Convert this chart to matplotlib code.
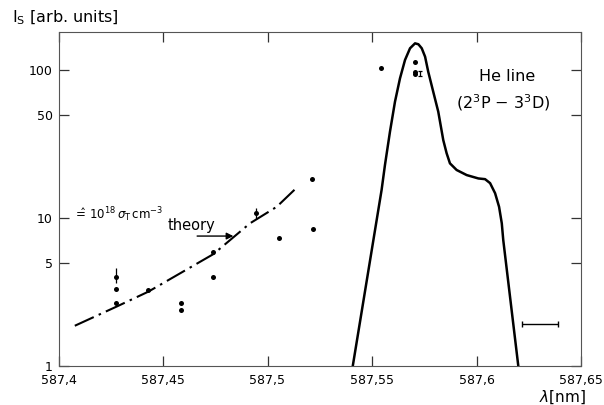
import matplotlib
matplotlib.use("Agg")
import matplotlib.pyplot as plt
import numpy as np

# He line profile (solid)
line_x = [587.5408, 587.5546, 587.5562, 587.5586, 587.5610, 587.5634, 587.5658,
          587.5682, 587.5706, 587.5722, 587.5738, 587.5754, 587.5769, 587.5793,
          587.5817, 587.5841, 587.5857, 587.5873, 587.5905, 587.5953, 587.6009,
          587.6041, 587.6065, 587.6089, 587.6108, 587.6121, 587.6128, 587.6200]
line_y = [1.0, 15.5, 22.8, 38.3, 61.1, 87.9, 116.9, 140.2, 151.4, 149.2, 140.2,
          123, 97.4, 71.3, 52.3, 33.6, 27.4, 23.4, 21.1, 19.5, 18.5, 18.3, 17.2,
          14.7, 11.9, 9.2, 7.1, 1.0]

# theory curve (dash-dot)
theory_x = [587.4078, 587.4278, 587.4430, 587.4741, 587.4916, 587.5044, 587.5147]
theory_y = [1.87, 2.52, 3.18, 5.70, 9.2, 11.9, 16.4]

# measured points
pts_x = [587.4276, 587.4276, 587.4430, 587.4586, 587.4586, 587.4741, 587.4738,
         587.5057, 587.5214, 587.5219, 587.5545, 587.5706, 587.5706, 587.5706]
pts_y = [3.31, 2.65, 3.26, 2.65, 2.39, 5.87, 4.01, 7.36, 18.3, 8.43, 103.7,
         113, 97.4, 93.5]

# points with error bars
err_x = [587.4276, 587.4944]
err_y = [4.01, 10.8]
err_lo = [0.35, 1.0]
err_hi = [0.56, 0.9]

# small error bar beside the peak points
peak_err_x = [587.5730]
peak_err_y = [95]
peak_err = [4]

# instrumental width bar
inst_x = [587.622, 587.639]
inst_y = 1.92

xticks = [587.4, 587.45, 587.5, 587.55, 587.6, 587.65]
xticklabels = ["587,4", "587,45", "587,5", "587,55", "587,6", "587,65"]
yticks = [1, 5, 10, 50, 100]
yticklabels = ["1", "5", "10", "50", "100"]

fig = plt.figure(figsize=(6.04, 4.05), dpi=100)
ax = fig.add_axes([58.5/604, 39/405, (581-58.5)/604, (366-32)/405])
ax.set_yscale("log")
ax.set_xlim(587.4, 587.65)
ax.set_ylim(1, 180.6)

ax.plot(line_x, line_y, color="black", lw=1.8, solid_joinstyle="round")
ax.plot(theory_x, theory_y, color="black", lw=1.5, linestyle=(0, (10, 2.6, 1.2, 2.6)))
ax.plot(pts_x, pts_y, "o", color="black", ms=3.6, mew=0)
ax.errorbar(err_x, err_y, yerr=[err_lo, err_hi], fmt="o", color="black", ms=3.6,
            mew=0, elinewidth=0.9, capsize=2.5, capthick=0.9)
ax.errorbar(peak_err_x, peak_err_y, yerr=peak_err, fmt="none", color="black",
            elinewidth=0.9, capsize=1.5, capthick=0.9)
ax.errorbar([sum(inst_x)/2], [inst_y], xerr=[(inst_x[1]-inst_x[0])/2], fmt="none",
            color="black", elinewidth=1.0, capsize=2.5, capthick=1.0)

ax.set_xticks(xticks)
ax.set_xticklabels(xticklabels)
ax.set_yticks(yticks)
ax.set_yticklabels(yticklabels)
ax.minorticks_off()
ax.tick_params(axis="both", direction="in", length=7, width=0.9, color="#333333",
               labelsize=9, top=True, right=True)
ax.tick_params(axis="x", pad=6)
ax.tick_params(axis="y", pad=4)
for s in ax.spines.values():
    s.set_linewidth(0.8)
    s.set_color("#555555")

ax.text(587.4069, 10.6, r"$\hat{=}\,10^{18}\,\sigma_\mathrm{T}\,\mathrm{cm}^{-3}$",
        fontsize=8.5, va="center", ha="left")
ax.text(587.4634, 8.83, "theory", fontsize=10.5, ha="center", va="center")
ax.annotate("", xy=(587.4850, 7.55), xytext=(587.4650, 7.55),
            arrowprops=dict(arrowstyle="-|>", color="black", lw=1.0,
                            mutation_scale=10))
ax.text(587.6146, 89.7, "He line", fontsize=11.5, ha="center", va="center")
ax.text(587.6127, 59.8, r"(2$^3$P $-$ 3$^3$D)", fontsize=11.5, ha="center", va="center")

fig.text(12/604, 1-18/405, r"I$_\mathrm{S}$ [arb. units]", fontsize=11.5,
         ha="left", va="center")
fig.text(586/604, 1-397/405, r"$\lambda$[nm]", fontsize=11, ha="right", va="center")

fig.savefig("out.png", dpi=100, facecolor="white")
